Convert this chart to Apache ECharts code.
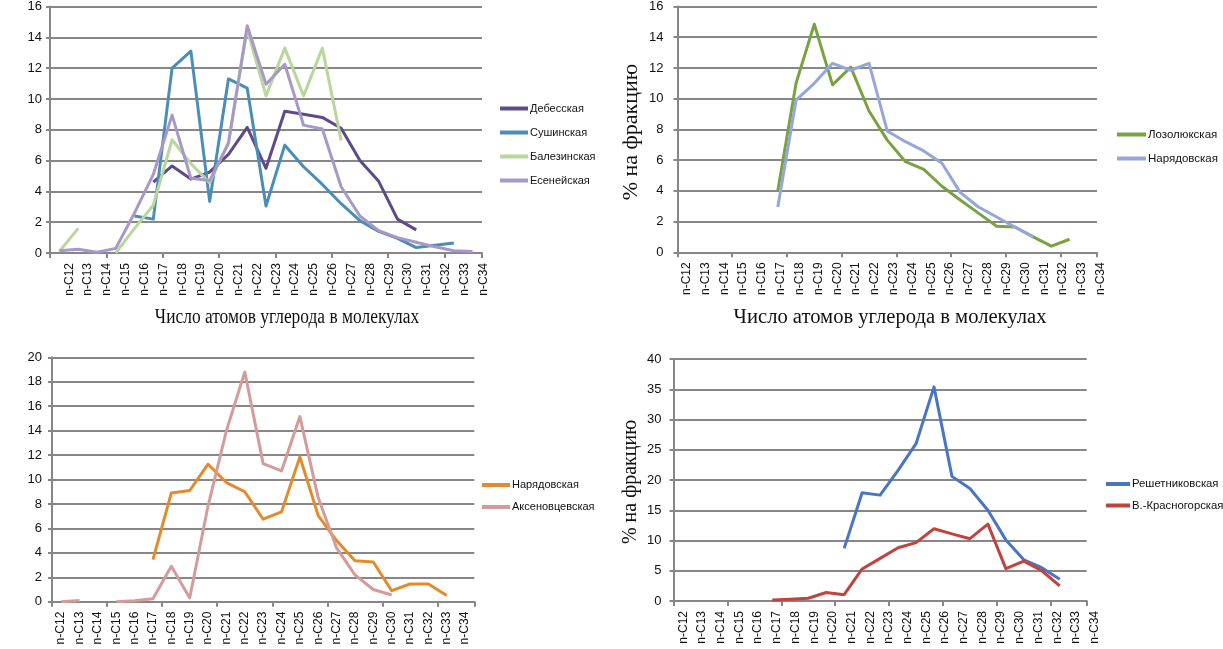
<!DOCTYPE html>
<html>
<head>
<meta charset="utf-8">
<script src="https://cdn.jsdelivr.net/npm/echarts@6/dist/echarts.min.js"></script>
<style>
html,body{margin:0;padding:0;background:#fff;}
#c{width:1223px;height:649px;}
</style>
</head>
<body>
<div id="c"></div>
<script>
// ---------- DATA ----------
const categories = ['n-C12','n-C13','n-C14','n-C15','n-C16','n-C17','n-C18','n-C19','n-C20','n-C21','n-C22','n-C23','n-C24','n-C25','n-C26','n-C27','n-C28','n-C29','n-C30','n-C31','n-C32','n-C33','n-C34'];

// Panel 1 (top-left)
const debesskaya   = [null,null,null,null,null,4.6,5.65,4.8,5.25,6.4,8.15,5.5,9.2,9.0,8.8,8.1,6.0,4.65,2.2,1.5,null,null,null];
const sushinskaya  = [null,null,null,null,2.4,2.2,12.0,13.1,3.35,11.3,10.7,3.05,7.0,5.6,4.45,3.2,2.1,1.4,0.95,0.35,0.5,0.65,null];
const balezinskaya = [0.1,1.6,null,0.0,1.6,3.1,7.35,5.8,4.55,7.2,14.5,10.2,13.3,10.2,13.3,7.3,null,null,null,null,null,null,null];
const eseneyskaya  = [0.15,0.25,0.05,0.3,2.6,5.1,8.95,4.85,4.7,7.1,14.75,10.95,12.25,8.3,8.05,4.3,2.4,1.45,1.0,0.7,0.4,0.15,0.1];

// Panel 2 (top-right)
const lozolyukskaya = [null,null,null,null,null,4.0,11.0,14.85,10.9,12.05,9.2,7.3,5.9,5.4,4.3,3.4,2.55,1.7,1.65,1.0,0.4,0.85,null];
const naryadovskaya2 = [null,null,null,null,null,2.95,9.9,11.0,12.3,11.85,12.3,7.9,7.2,6.6,5.8,3.9,2.95,2.3,1.65,1.0,null,null,null];

// Panel 3 (bottom-left)
const naryadovskaya3 = [null,null,null,null,null,3.45,8.9,9.1,11.25,9.75,9.0,6.75,7.35,11.85,7.05,5.0,3.35,3.25,0.9,1.45,1.45,0.5,null];
const aksenovtsevskaya = [0.0,0.1,null,0.0,0.08,0.25,2.9,0.3,7.85,14.0,18.8,11.3,10.7,15.15,8.5,4.4,2.2,1.0,0.55,null,null,null,null];

// Panel 4 (bottom-right)
const reshetnikovskaya = [null,null,null,null,null,null,null,null,null,8.7,17.9,17.5,21.6,26.0,35.4,20.6,18.6,15.0,10.1,6.8,5.5,3.6,null];
const vKrasnogorskaya  = [null,null,null,null,null,0.15,0.3,0.45,1.4,1.05,5.3,7.05,8.8,9.65,11.95,11.1,10.3,12.7,5.35,6.6,5.0,2.5,null];

const xTitle = 'Число атомов углерода в молекулах';
const yTitle = '% на фракцию';

// ---------- CHART ----------
const SANS = '"Liberation Sans", Arial, sans-serif';
const SERIF = '"Liberation Serif", "Times New Roman", serif';
const GRID_C = '#878787';

const panels = [
  {grid:{left:50, top:5, width:432, height:248}, lab:{left:59.9, width:432.9}, max:16, interval:2, yMargin:8},
  {grid:{left:677.5, top:5, width:419.5, height:247.3}, lab:{left:677.2, width:433}, max:16, interval:2, yMargin:14},
  {grid:{left:52, top:357.3, width:422.3, height:244.4}, lab:{left:52, width:422.3}, max:20, interval:2, yMargin:10},
  {grid:{left:673.5, top:359, width:413.2, height:242}, lab:{left:674.05, width:429.9}, max:40, interval:5, yMargin:12}
];

const grid = [], xAxis = [], yAxis = [];
panels.forEach((p, i) => {
  grid.push(Object.assign({containLabel:false}, p.grid));
  grid.push({containLabel:false, left:p.lab.left, width:p.lab.width, top:p.grid.top, height:p.grid.height});
  xAxis.push({
    type:'category', gridIndex:2*i, data:categories, boundaryGap:true,
    axisLine:{show:true, lineStyle:{color:GRID_C, width:2}},
    axisTick:{show:true, length:5, lineStyle:{color:GRID_C, width:2}},
    axisLabel:{show:false}, splitLine:{show:false}
  });
  xAxis.push({
    type:'category', gridIndex:2*i+1, data:categories, boundaryGap:true,
    axisLine:{show:false}, axisTick:{show:false}, splitLine:{show:false},
    axisLabel:{show:true, rotate:90, interval:0, margin:10, fontSize:12, color:'#111', fontFamily:SANS}
  });
  yAxis.push({
    type:'value', gridIndex:2*i, min:0, max:p.max, interval:p.interval,
    axisLine:{show:true, lineStyle:{color:GRID_C, width:2}},
    axisTick:{show:true, length:4, lineStyle:{color:GRID_C, width:2}},
    splitLine:{show:true, lineStyle:{color:GRID_C, width:2}},
    axisLabel:{margin:p.yMargin, fontSize:13, color:'#111', fontFamily:SANS}
  });
  yAxis.push({type:'value', gridIndex:2*i+1, min:0, max:1, show:false});
});

function ln(name, data, color, panel) {
  return {
    name, type:'line', data, xAxisIndex:2*panel, yAxisIndex:2*panel,
    showSymbol:false, symbol:'none', connectNulls:false, smooth:false,
    lineStyle:{width:3, color, join:'round'}, itemStyle:{color},
    emphasis:{disabled:true}
  };
}

const NAR3 = 'Нарядовская\u00a0';
const series = [
  ln('Дебесская', debesskaya, '#5E4A8B', 0),
  ln('Сушинская', sushinskaya, '#4A8DB7', 0),
  ln('Балезинская', balezinskaya, '#B7D79C', 0),
  ln('Есенейская', eseneyskaya, '#A898C8', 0),
  ln('Лозолюкская', lozolyukskaya, '#78A340', 1),
  ln('Нарядовская', naryadovskaya2, '#95A6DA', 1),
  ln(NAR3, naryadovskaya3, '#E38B2B', 2),
  ln('Аксеновцевская', aksenovtsevskaya, '#D59B99', 2),
  ln('Решетниковская', reshetnikovskaya, '#4A75C2', 3),
  ln('В.-Красногорская', vKrasnogorskaya, '#C0433E', 3)
];

function lg(data, left, top, gap, w, fs) {
  return {
    data, orient:'vertical', left, top, itemGap:gap, itemWidth:w, itemHeight:4, icon:'rect',
    selectedMode:false, padding:0,
    textStyle:{fontSize:fs, color:'#111', fontFamily:SANS, padding:[0,0,0,-3]},
    formatter: n => n.trim()
  };
}

const legend = [
  lg(['Дебесская','Сушинская','Балезинская','Есенейская'], 500, 103, 13, 28, 11),
  lg(['Лозолюкская','Нарядовская'], 1117, 128.5, 12, 29, 11.5),
  lg([NAR3,'Аксеновцевская'], 482, 479.5, 11, 28, 11),
  lg(['Решетниковская','В.-Красногорская'], 1106, 478.5, 10.5, 24, 11.3)
];

const graphic = [
  {type:'text', x:287, y:318, scaleX:0.87, style:{text:xTitle, font:'20px ' + SERIF, fill:'#111', textAlign:'center', textVerticalAlign:'middle'}},
  {type:'text', x:890, y:318, scaleX:1.03, style:{text:xTitle, font:'20px ' + SERIF, fill:'#111', textAlign:'center', textVerticalAlign:'middle'}},
  {type:'text', x:631, y:132, rotation:Math.PI/2, style:{text:yTitle, font:'22px ' + SERIF, fill:'#111', textAlign:'center', textVerticalAlign:'middle'}},
  {type:'text', x:631, y:482, rotation:Math.PI/2, style:{text:yTitle, font:'20px ' + SERIF, fill:'#111', textAlign:'center', textVerticalAlign:'middle'}}
];

const chart = echarts.init(document.getElementById('c'), null, {renderer:'canvas'});
chart.setOption({
  animation:false, backgroundColor:'#fff',
  grid, xAxis, yAxis, series, legend, graphic
});
</script>
</body>
</html>
